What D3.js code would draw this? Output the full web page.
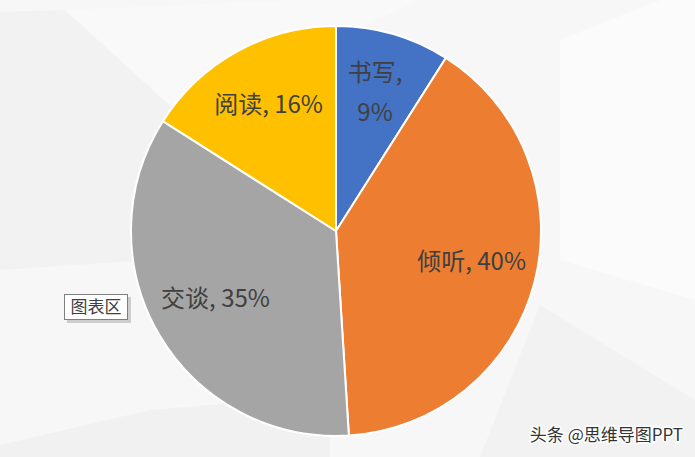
<!DOCTYPE html>
<html><head><meta charset="utf-8">
<script src="https://cdn.jsdelivr.net/npm/d3@7"></script>
<style>html,body{margin:0;padding:0;background:#f7f7f7;overflow:hidden}</style>
</head><body>
<svg id="c" width="695" height="457"></svg>
<script>
const categories = ["书写", "倾听", "交谈", "阅读"];
const values = [9, 40, 35, 16];
const colors = ["#4472C4", "#ED7D31", "#A5A5A5", "#FFC000"];
const labelLines = [["书写,", "9%"], ["倾听, 40%"], ["交谈, 35%"], ["阅读, 16%"]];

const svg = d3.select("#c");
const W = 695, H = 457;

// background
svg.append("rect").attr("width", W).attr("height", H).attr("fill", "#f7f7f7");
const bgPolys = [
  [[0,12],[65,10],[175,110],[150,260],[0,270]],
  [[65,10],[300,0],[420,0],[175,110]],
  [[0,445],[150,410],[330,395],[330,457],[0,457]],
  [[540,305],[695,400],[695,457],[480,457]],
  [[560,40],[660,0],[695,0],[695,300],[560,260]]
];
const bgFills = ["#f2f2f2", "#f9f9f9", "#f1f1f1", "#f2f2f2", "#fbfbfb"];
svg.selectAll("polygon.bg").data(bgPolys).join("polygon")
  .attr("class", "bg")
  .attr("points", d => d.map(p => p.join(",")).join(" "))
  .attr("fill", (d, i) => bgFills[i]);

const cx = 336, cy = 231, R = 205;
const g = svg.append("g").attr("transform", `translate(${cx},${cy})`);
const pie = d3.pie().sort(null).value(d => d);
const arcs = pie(values);
const arc = d3.arc().innerRadius(0).outerRadius(R);
g.selectAll("path").data(arcs).join("path")
  .attr("d", arc)
  .attr("fill", (d, i) => colors[i])
  .attr("stroke", "#ffffff")
  .attr("stroke-width", 2);

const labelArc = d3.arc().innerRadius(140).outerRadius(140);
const labels = g.selectAll("text.lbl").data(arcs).join("text")
  .attr("class", "lbl")
  .attr("transform", d => { const c = labelArc.centroid(d); return `translate(${c[0]},${c[1] - 4})`; })
  .attr("text-anchor", "middle")
  .attr("font-family", "'Noto Sans CJK SC', 'Noto Sans', sans-serif")
  .attr("font-size", 24)
  .attr("fill", "#404040");
labels.each(function(d, i) {
  const lines = labelLines[i];
  const n = lines.length;
  const t = d3.select(this);
  lines.forEach((ln, k) => {
    t.append("tspan").attr("x", 0)
      .attr("y", (k - (n - 1) / 2) * 40)
      .attr("dy", "0.35em")
      .text(ln);
  });
});

// tooltip box
const tip = svg.append("g").attr("transform", "translate(64,294)");
tip.append("rect").attr("x", 3).attr("y", 3).attr("width", 64).attr("height", 26).attr("fill", "#b0b0b0").attr("opacity", 0.6);
tip.append("rect").attr("x", 0.5).attr("y", 0.5).attr("width", 63).attr("height", 25)
  .attr("fill", "#ffffff").attr("stroke", "#7f7f7f").attr("stroke-width", 1);
tip.append("text").attr("x", 32).attr("y", 13).attr("dy", "0.35em").attr("text-anchor", "middle")
  .attr("font-family", "'Noto Sans CJK SC', sans-serif").attr("font-size", 17).attr("fill", "#404040")
  .text("图表区");

// watermark
svg.append("text").attr("x", 683).attr("y", 441).attr("text-anchor", "end")
  .attr("font-family", "'Noto Sans CJK SC', sans-serif").attr("font-size", 17)
  .attr("fill", "#333333").attr("stroke", "#ffffff").attr("stroke-width", 3).attr("paint-order", "stroke")
  .text("头条 @思维导图PPT");
</script>
</body></html>
